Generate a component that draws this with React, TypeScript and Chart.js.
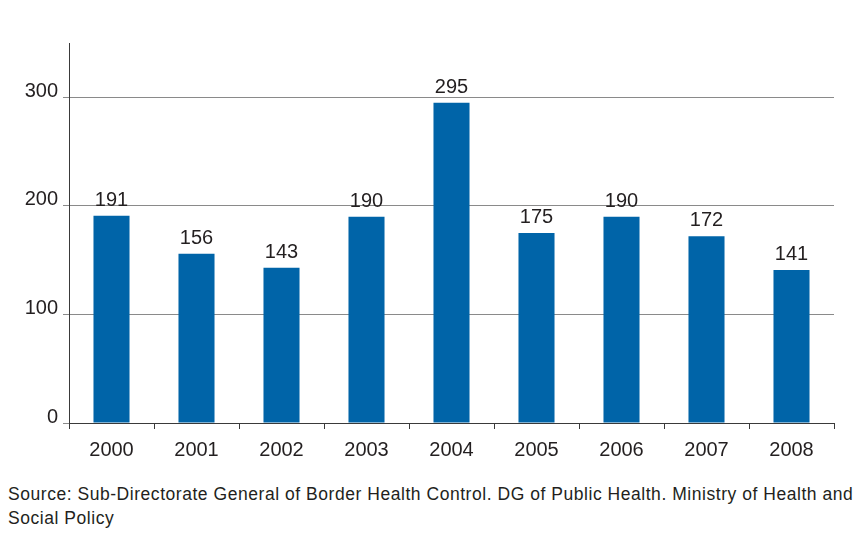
import React, { useEffect, useRef } from "react";
import { Chart, registerables } from "chart.js";

Chart.register(...registerables);

const years = ["2000", "2001", "2002", "2003", "2004", "2005", "2006", "2007", "2008"];
const values = [191, 156, 143, 190, 295, 175, 190, 172, 141];
const yTicks = [0, 100, 200, 300];
const sourceLine1 = "Source: Sub-Directorate General of Border Health Control. DG of Public Health. Ministry of Health and";
const sourceLine2 = "Social Policy";

const FONT = "'Liberation Sans', Arial, Helvetica, sans-serif";
const BAR = "#0064a8";
const TEXT = "#231f20";

const valueLabels = {
  id: "valueLabels",
  afterDatasetsDraw(chart: any) {
    const ctx = chart.ctx;
    const meta = chart.getDatasetMeta(0);
    ctx.save();
    ctx.font = `20px ${FONT}`;
    ctx.fillStyle = TEXT;
    ctx.textAlign = "center";
    ctx.textBaseline = "alphabetic";
    meta.data.forEach((el: any, i: number) => {
      ctx.fillText(String(values[i]), el.x, el.y - 10);
    });
    ctx.restore();
  },
};

export default function App() {
  const ref = useRef<HTMLCanvasElement | null>(null);
  useEffect(() => {
    if (!ref.current) return;
    const chart = new Chart(ref.current, {
      type: "bar",
      data: {
        labels: years,
        datasets: [
          {
            data: values,
            backgroundColor: BAR,
            borderWidth: 0,
            categoryPercentage: 1,
            barPercentage: 0.424,
          },
        ],
      },
      options: {
        animation: false,
        responsive: false,
        maintainAspectRatio: false,
        layout: { padding: { left: 0, top: 43, right: 23, bottom: 7 } },
        plugins: { legend: { display: false }, tooltip: { enabled: false } },
        scales: {
          x: {
            offset: true,
            grid: {
              offset: true,
              drawOnChartArea: false,
              drawTicks: true,
              tickLength: 6,
              color: "#3a3a3a",
            },
            border: { color: "#3a3a3a", width: 1 },
            ticks: {
              font: { family: FONT, size: 20 },
              color: TEXT,
              padding: 9,
              maxRotation: 0,
            },
            afterFit: (s: any) => {
              s.height = 40;
            },
          },
          y: {
            min: 0,
            max: 350,
            grid: {
              color: "#8a8a8a",
              tickLength: 6,
              drawTicks: true,
              lineWidth: 1,
            },
            border: { color: "#3a3a3a", width: 1 },
            ticks: {
              stepSize: 100,
              font: { family: FONT, size: 20 },
              color: TEXT,
              padding: 5,
              labelOffset: -6,
            },
            afterBuildTicks: (s: any) => {
              s.ticks = yTicks.map((v) => ({ value: v }));
            },
            afterFit: (s: any) => {
              s.width = 69;
            },
          },
        },
      },
      plugins: [valueLabels],
    });
    return () => chart.destroy();
  }, []);

  return (
    <div style={{ position: "absolute", left: 0, top: 0, width: 857, height: 534, background: "#fff" }}>
      <canvas ref={ref} width={857} height={470} style={{ position: "absolute", left: 0, top: 0, width: 857, height: 470 }} />
      <div
        style={{
          position: "absolute",
          left: 8,
          top: 482,
          fontFamily: FONT,
          fontSize: 17.5,
          letterSpacing: "0.54px",
          lineHeight: "24px",
          color: TEXT,
          whiteSpace: "nowrap",
        }}
      >
        {sourceLine1}
        <br />
        {sourceLine2}
      </div>
    </div>
  );
}
